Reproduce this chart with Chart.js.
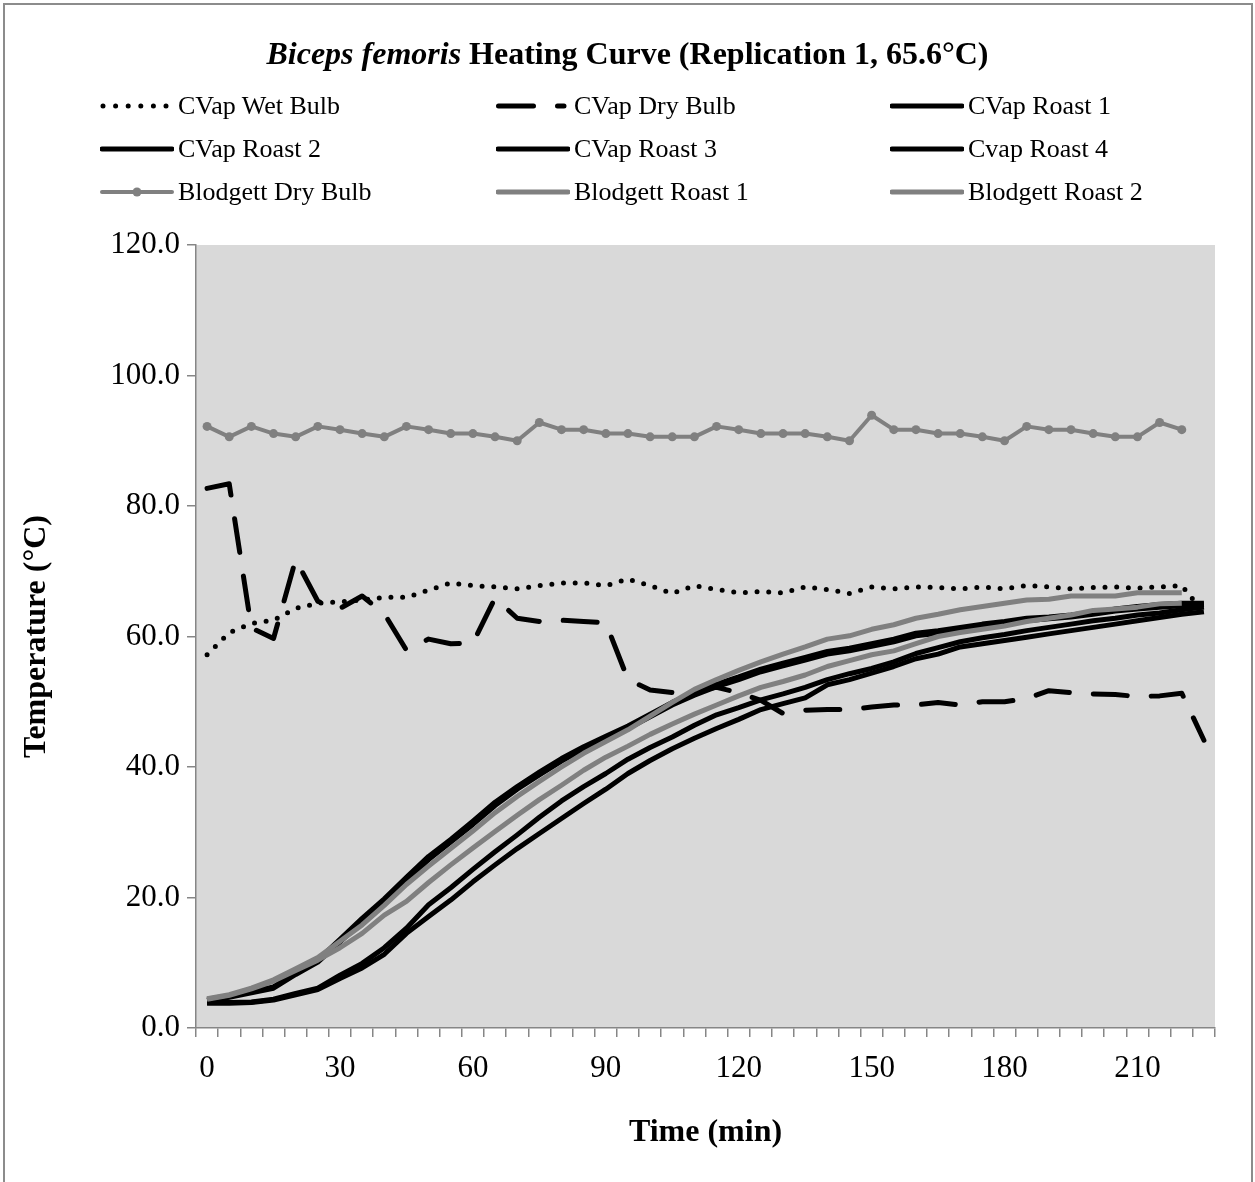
<!DOCTYPE html>
<html>
<head>
<meta charset="utf-8">
<script src="https://cdn.jsdelivr.net/npm/chart.js@4.4.0/dist/chart.umd.min.js"></script>
<style>
  html, body { margin: 0; padding: 0; background: #fff; overflow: hidden; }
  #chart { position: absolute; left: 0; top: 0; }
  #frame { position: absolute; left: 3px; top: 3px; width: 1250px; height: 1220px;
           border: 2px solid #8c8c8c; box-sizing: border-box; }
  #title { position: absolute; left: 0; top: 34px; width: 1255px; text-align: center;
           font: bold 32px 'Liberation Serif', 'Times New Roman', serif; line-height: 38px; }
  .lg { position: absolute; height: 30px; display: flex; align-items: center;
        font: 26px 'Liberation Serif', 'Times New Roman', serif; white-space: nowrap; }
  .lg svg { margin-right: 4px; }
</style>
</head>
<body>
<canvas id="chart" width="1255" height="1182"></canvas>
<div id="title"><i>Biceps femoris</i> Heating Curve (Replication 1, 65.6°C)</div>
<div id="legend"></div>
<div id="frame"></div>
<script>
// ─── DATA ─────────────────────────────────────────────────────────────────
const times = [0, 5, 10, 15, 20, 25, 30, 35, 40, 45, 50, 55, 60, 65, 70, 75, 80, 85, 90, 95,
  100, 105, 110, 115, 120, 125, 130, 135, 140, 145, 150, 155, 160, 165, 170, 175, 180, 185,
  190, 195, 200, 205, 210, 215, 220, 225];

const cvapWetBulb = [57.2, 60.6, 62.0, 62.5, 64.3, 65.1, 65.3, 65.6, 66.0, 66.0, 67.1, 68.2,
  67.8, 67.6, 67.3, 67.8, 68.2, 68.2, 67.8, 68.8, 67.8, 66.6, 67.8, 67.2, 66.7, 66.9, 66.7,
  67.6, 67.2, 66.6, 67.6, 67.3, 67.6, 67.5, 67.3, 67.6, 67.3, 67.8, 67.6, 67.3, 67.5, 67.6,
  67.4, 67.6, 67.8, 63.6];

const cvapDryBulb = [82.7, 83.4, 61.3, 59.7, 71.8, 65.4, 64.3, 66.2, 63.5, 57.9, 59.6, 58.9,
  59.0, 65.9, 62.8, 62.3, 62.5, 62.3, 62.1, 53.4, 51.8, 51.4, 51.7, 52.2, 51.4, 50.2, 48.2,
  48.7, 48.8, 48.8, 49.2, 49.5, 49.5, 49.9, 49.5, 50.0, 50.0, 50.5, 51.7, 51.4, 51.2, 51.1,
  50.8, 50.9, 51.3, 44.1];

const cvapRoast1 = [4.3, 4.8, 5.6, 6.3, 8.5, 10.4, 13.6, 16.8, 19.8, 23.1, 26.3, 28.9, 31.7,
  34.6, 37.0, 39.2, 41.3, 43.1, 44.7, 46.3, 48.1, 49.9, 51.4, 52.7, 53.8, 55.0, 55.9, 56.8,
  57.7, 58.2, 58.9, 59.6, 60.5, 60.9, 61.4, 61.9, 62.3, 62.8, 63.0, 63.3, 63.7, 64.2, 64.6,
  64.9, 65.1, 65.1];

const cvapRoast2 = [4.2, 4.7, 5.4, 6.1, 8.2, 10.1, 13.2, 16.3, 19.3, 22.6, 25.8, 28.5, 31.2,
  34.1, 36.6, 38.8, 40.9, 42.7, 44.3, 45.9, 47.7, 49.5, 51.0, 52.3, 53.4, 54.6, 55.5, 56.4,
  57.3, 57.8, 58.5, 59.2, 60.1, 60.5, 61.0, 61.5, 61.9, 62.4, 62.7, 63.0, 63.4, 63.9, 64.2,
  64.5, 64.7, 64.9];

const cvapRoast3 = [3.9, 3.9, 4.0, 4.4, 5.3, 6.1, 8.1, 9.9, 12.3, 15.3, 18.9, 21.5, 24.3,
  27.0, 29.6, 32.3, 34.8, 37.0, 39.0, 41.2, 43.0, 44.6, 46.4, 48.0, 49.1, 50.3, 51.2, 52.2,
  53.4, 54.3, 55.1, 56.1, 57.4, 58.3, 59.2, 59.8, 60.3, 60.9, 61.4, 61.9, 62.4, 62.8, 63.3,
  63.6, 64.1, 64.5];

const cvapRoast4 = [3.8, 3.8, 3.9, 4.3, 5.1, 5.9, 7.6, 9.2, 11.3, 14.5, 17.1, 19.6, 22.4,
  25.0, 27.5, 29.8, 32.1, 34.4, 36.6, 39.0, 41.0, 42.8, 44.4, 45.9, 47.3, 48.8, 49.7, 50.6,
  52.6, 53.4, 54.4, 55.4, 56.6, 57.3, 58.4, 58.9, 59.4, 59.9, 60.4, 60.9, 61.4, 61.9, 62.4,
  62.9, 63.4, 63.8];

const blodgettDryBulb = [92.2, 90.6, 92.2, 91.1, 90.6, 92.2, 91.7, 91.1, 90.6, 92.2, 91.7,
  91.1, 91.1, 90.6, 90.0, 92.8, 91.7, 91.7, 91.1, 91.1, 90.6, 90.6, 90.6, 92.2, 91.7, 91.1,
  91.1, 91.1, 90.6, 90.0, 93.9, 91.7, 91.7, 91.1, 91.1, 90.6, 90.0, 92.2, 91.7, 91.7, 91.1,
  90.6, 90.6, 92.8, 91.7, null];

const blodgettRoast1 = [4.4, 5.0, 6.0, 7.2, 8.8, 10.4, 12.3, 14.5, 17.3, 19.4, 22.3, 25.0,
  27.6, 30.1, 32.6, 35.0, 37.2, 39.5, 41.5, 43.2, 45.0, 46.6, 48.1, 49.5, 50.9, 52.2, 53.1,
  54.1, 55.4, 56.3, 57.2, 57.8, 58.9, 60.0, 60.6, 61.1, 61.6, 62.3, 62.8, 63.3, 64.0, 64.2,
  64.5, 65.0, 65.1, null];

const blodgettRoast2 = [4.5, 5.1, 6.1, 7.4, 9.1, 10.8, 13.3, 15.8, 18.8, 22.0, 24.8, 27.5,
  30.2, 33.0, 35.5, 37.8, 40.0, 42.1, 43.9, 45.7, 47.8, 49.9, 51.9, 53.4, 54.8, 56.1, 57.3,
  58.4, 59.6, 60.1, 61.1, 61.8, 62.8, 63.4, 64.1, 64.6, 65.1, 65.6, 65.7, 66.2, 66.2, 66.2,
  66.7, 66.7, 66.7, null];

const yTicks = [0, 20, 40, 60, 80, 100, 120];

// ─── STYLES ───────────────────────────────────────────────────────────────
const BLACK = '#000000';
const GREY = '#808080';
const AXIS = '#868686';
const FONT = "'Liberation Serif', 'Times New Roman', serif";

const series = [
  { label: 'CVap Wet Bulb', data: cvapWetBulb, color: BLACK, dash: [0, 11.7] },
  { label: 'CVap Dry Bulb', data: cvapDryBulb, color: BLACK, dash: [34, 24] },
  { label: 'CVap Roast 1', data: cvapRoast1, color: BLACK },
  { label: 'CVap Roast 2', data: cvapRoast2, color: BLACK },
  { label: 'CVap Roast 3', data: cvapRoast3, color: BLACK },
  { label: 'Cvap Roast 4', data: cvapRoast4, color: BLACK },
  { label: 'Blodgett Dry Bulb', data: blodgettDryBulb, color: GREY, marker: true, width: 4 },
  { label: 'Blodgett Roast 1', data: blodgettRoast1, color: GREY },
  { label: 'Blodgett Roast 2', data: blodgettRoast2, color: GREY }
];

// ─── LEGEND (3 x 3 grid) ──────────────────────────────────────────────────
function legendSample(s) {
  const w = s.width || 5;
  let svg = `<svg width="74" height="14" viewBox="0 0 74 14">`;
  if (s.dash && s.dash[0] === 0) {
    svg += `<line x1="3" y1="7" x2="70" y2="7" stroke="${s.color}" stroke-width="5" stroke-dasharray="0 12.6" stroke-linecap="round"/>`;
  } else if (s.dash) {
    svg += `<line x1="2.5" y1="7" x2="68" y2="7" stroke="${s.color}" stroke-width="5" stroke-dasharray="35 24" stroke-linecap="round"/>`;
  } else {
    svg += `<line x1="2" y1="7" x2="72" y2="7" stroke="${s.color}" stroke-width="${w}" stroke-linecap="round"/>`;
  }
  if (s.marker) svg += `<circle cx="37" cy="7" r="4.5" fill="${s.color}"/>`;
  return svg + '</svg>';
}

const LEG_X = [100, 496, 890];
const LEG_Y = [106, 149, 192];
document.getElementById('legend').innerHTML = series.map((s, i) => `
  <div class="lg" style="left:${LEG_X[i % 3]}px; top:${LEG_Y[Math.floor(i / 3)] - 15}px">
    ${legendSample(s)}<span>${s.label}</span>
  </div>`).join('');

// ─── CHART ────────────────────────────────────────────────────────────────
const plotBg = {
  id: 'plotBg',
  beforeDraw(chart) {
    const { ctx, chartArea: a } = chart;
    ctx.save();
    ctx.fillStyle = '#d9d9d9';
    ctx.fillRect(a.left, a.top, a.right - a.left, a.bottom - a.top);
    ctx.restore();
  }
};

new Chart(document.getElementById('chart'), {
  type: 'line',
  data: {
    labels: times.map(String),
    datasets: series.map((s, i) => ({
      label: s.label,
      data: s.data,
      borderColor: s.color,
      backgroundColor: s.color,
      borderWidth: s.width || 5,
      borderDash: s.dash || [],
      borderCapStyle: s.dash ? 'round' : 'butt',
      borderJoinStyle: 'round',
      pointRadius: s.marker ? 4.5 : 0,
      pointBorderWidth: 0,
      pointBackgroundColor: s.color,
      tension: 0,
      spanGaps: false,
      order: -i
    }))
  },
  options: {
    responsive: false,
    animation: false,
    devicePixelRatio: 1,
    layout: { padding: { top: 245, right: 40, left: 0, bottom: 0 } },
    plugins: { legend: { display: false }, tooltip: { enabled: false }, title: { display: false } },
    scales: {
      x: {
        type: 'category',
        offset: true,
        afterFit(scale) { scale.height = 154; },
        grid: { offset: true, drawOnChartArea: false, drawTicks: true, tickLength: 9, color: AXIS, lineWidth: 1.5 },
        border: { display: true, color: AXIS, width: 1.5 },
        ticks: {
          autoSkip: false, maxRotation: 0, padding: 13, color: BLACK,
          font: { family: FONT, size: 31 },
          callback: (v, i) => (i % 6 === 0 ? times[i] : '')
        },
        title: {
          display: true, text: 'Time (min)', color: BLACK,
          font: { family: FONT, size: 32, weight: 'bold' },
          padding: { top: 0, bottom: 30 }
        }
      },
      y: {
        min: yTicks[0], max: yTicks[yTicks.length - 1],
        afterFit(scale) { scale.width = 196; },
        afterBuildTicks(scale) { scale.ticks = yTicks.map(v => ({ value: v })); },
        grid: { drawOnChartArea: false, drawTicks: true, tickLength: 9, color: AXIS, lineWidth: 1.5 },
        border: { display: true, color: AXIS, width: 1.5 },
        ticks: {
          padding: 7, color: BLACK,
          font: { family: FONT, size: 31 },
          callback: v => Number(v).toFixed(1)
        },
        title: {
          display: true, text: 'Temperature (°C)', color: BLACK,
          font: { family: FONT, size: 32, weight: 'bold' },
          padding: { top: 18, bottom: 0 }
        }
      }
    }
  },
  plugins: [plotBg]
});
</script>
</body>
</html>
